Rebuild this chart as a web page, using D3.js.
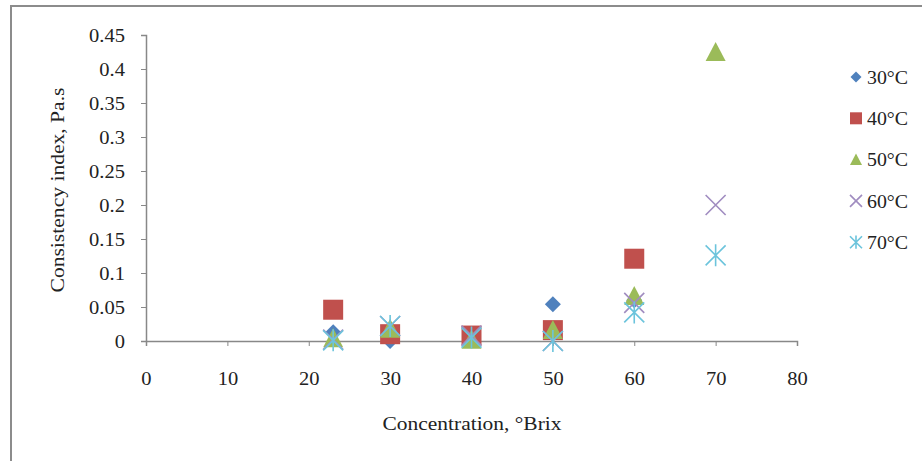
<!DOCTYPE html>
<html><head><meta charset="utf-8">
<script src="https://cdn.jsdelivr.net/npm/d3@7"></script>
<style>body{margin:0;background:#fff}svg{display:block}text{font-family:"Liberation Serif","Times New Roman",serif;fill:#222}</style>
</head><body>
<svg id="c" width="922" height="461"></svg>
<script>
const concentrations = [23, 30, 40, 50, 60, 70];
const series30 = [0.013, 0.0, 0.005, 0.054, 0.06, null];
const series40 = [0.046, 0.01, 0.008, 0.016, 0.121, null];
const series50 = [0.004, 0.018, 0.002, 0.016, 0.066, 0.425];
const series60 = [0.002, 0.022, 0.008, 0.0, 0.056, 0.2];
const series70 = [0.001, 0.022, 0.005, 0.0, 0.042, 0.126];
const seriesNames = ["30\u00B0C", "40\u00B0C", "50\u00B0C", "60\u00B0C", "70\u00B0C"];
const xTicks = [0, 10, 20, 30, 40, 50, 60, 70, 80];
const yTicks = [0, 0.05, 0.1, 0.15, 0.2, 0.25, 0.3, 0.35, 0.4, 0.45];

const svg = d3.select("#c");
const W = 922, H = 461;
const L = 146, R = 797, T = 35, B = 341;
const x = d3.scaleLinear().domain([0, 80]).range([L, R]);
const y = d3.scaleLinear().domain([0, 0.45]).range([B, T]);
const axisCol = "#888";
const SX = 1.14;

// frame
svg.append("path").attr("d", `M11,${H} L11,6 L${W},6`).attr("fill","none").attr("stroke","#8c8c8c").attr("stroke-width",2);

// axes
const xa = svg.append("g").attr("transform", `translate(0,${B})`)
  .call(d3.axisBottom(x).tickValues(xTicks).tickSize(5).tickFormat(d3.format("d")));
const ya = svg.append("g").attr("transform", `translate(${L},0)`)
  .call(d3.axisLeft(y).tickValues(yTicks).tickSize(5).tickFormat(d => d === 0 ? "0" : String(+d.toFixed(2))));
[xa, ya].forEach(g => {
  g.select(".domain").attr("stroke", axisCol).attr("stroke-width", 1.5);
  g.selectAll(".tick line").attr("stroke", axisCol);
  g.selectAll(".tick text").attr("font-size", 18).attr("fill", "#222")
   .attr("font-family", '"Liberation Serif", serif');
});
xa.selectAll(".tick text").attr("x", null).attr("dy", 0).attr("y", null)
  .attr("transform", `translate(0,44) scale(${SX},1)`);
ya.selectAll(".tick text").attr("x", null).attr("dy", "0.35em")
  .attr("transform", `translate(-21,0) scale(${SX},1)`);

// titles
svg.append("text").attr("x", 472).attr("y", 430).attr("text-anchor", "middle").attr("font-size", 19)
  .attr("textLength", 179).attr("lengthAdjust", "spacingAndGlyphs")
  .text("Concentration, \u00B0Brix");
svg.append("text").attr("transform", `translate(64,190) rotate(-90)`).attr("text-anchor", "middle").attr("font-size", 19)
  .attr("textLength", 205).attr("lengthAdjust", "spacingAndGlyphs")
  .text("Consistency index, Pa.s");

const colors = ["#4F81BD", "#C0504D", "#9BBB59", "#8064A2", "#4BACC6"];
const allSeries = [series30, series40, series50, series60, series70];

function marker(g, k, s) {
  const c = colors[k];
  if (k === 0) {
    g.append("path").attr("d", `M0,${-s} L${s},0 L0,${s} L${-s},0Z`).attr("fill", c);
  } else if (k === 1) {
    g.append("rect").attr("x", -s).attr("y", -s).attr("width", 2*s).attr("height", 2*s).attr("fill", c);
  } else if (k === 2) {
    g.append("path").attr("d", `M0,${-s} L${s},${s*0.9} L${-s},${s*0.9}Z`).attr("fill", c);
  } else if (k === 3) {
    g.append("path").attr("d", `M${-s},${-s} L${s},${s} M${s},${-s} L${-s},${s}`).attr("stroke", "#a08cc0").attr("stroke-width", 1.6).attr("fill","none");
  } else {
    g.append("path").attr("d", `M${-s},${-s} L${s},${s} M${s},${-s} L${-s},${s} M0,${-s*1.1} L0,${s*1.1}`).attr("stroke", "#6cc4dc").attr("stroke-width", 1.6).attr("fill","none");
  }
}
const sizes = [8, 10, 10, 10, 10];
allSeries.forEach((vals, k) => {
  const g = svg.append("g");
  vals.forEach((v, i) => {
    if (v === null) return;
    marker(g.append("g").attr("transform", `translate(${x(concentrations[i])},${y(v)})`), k, sizes[k]);
  });
});

// legend
seriesNames.forEach((n, k) => {
  const yy = 77 + k * 41.3;
  marker(svg.append("g").attr("transform", `translate(856,${yy})`), k, k === 0 ? 5.5 : 6);
  svg.append("text").attr("x", 867).attr("y", yy).attr("dy", "0.35em").attr("font-size", 19)
    .attr("textLength", 41).attr("lengthAdjust", "spacingAndGlyphs").text(n);
});
</script>
</body></html>
